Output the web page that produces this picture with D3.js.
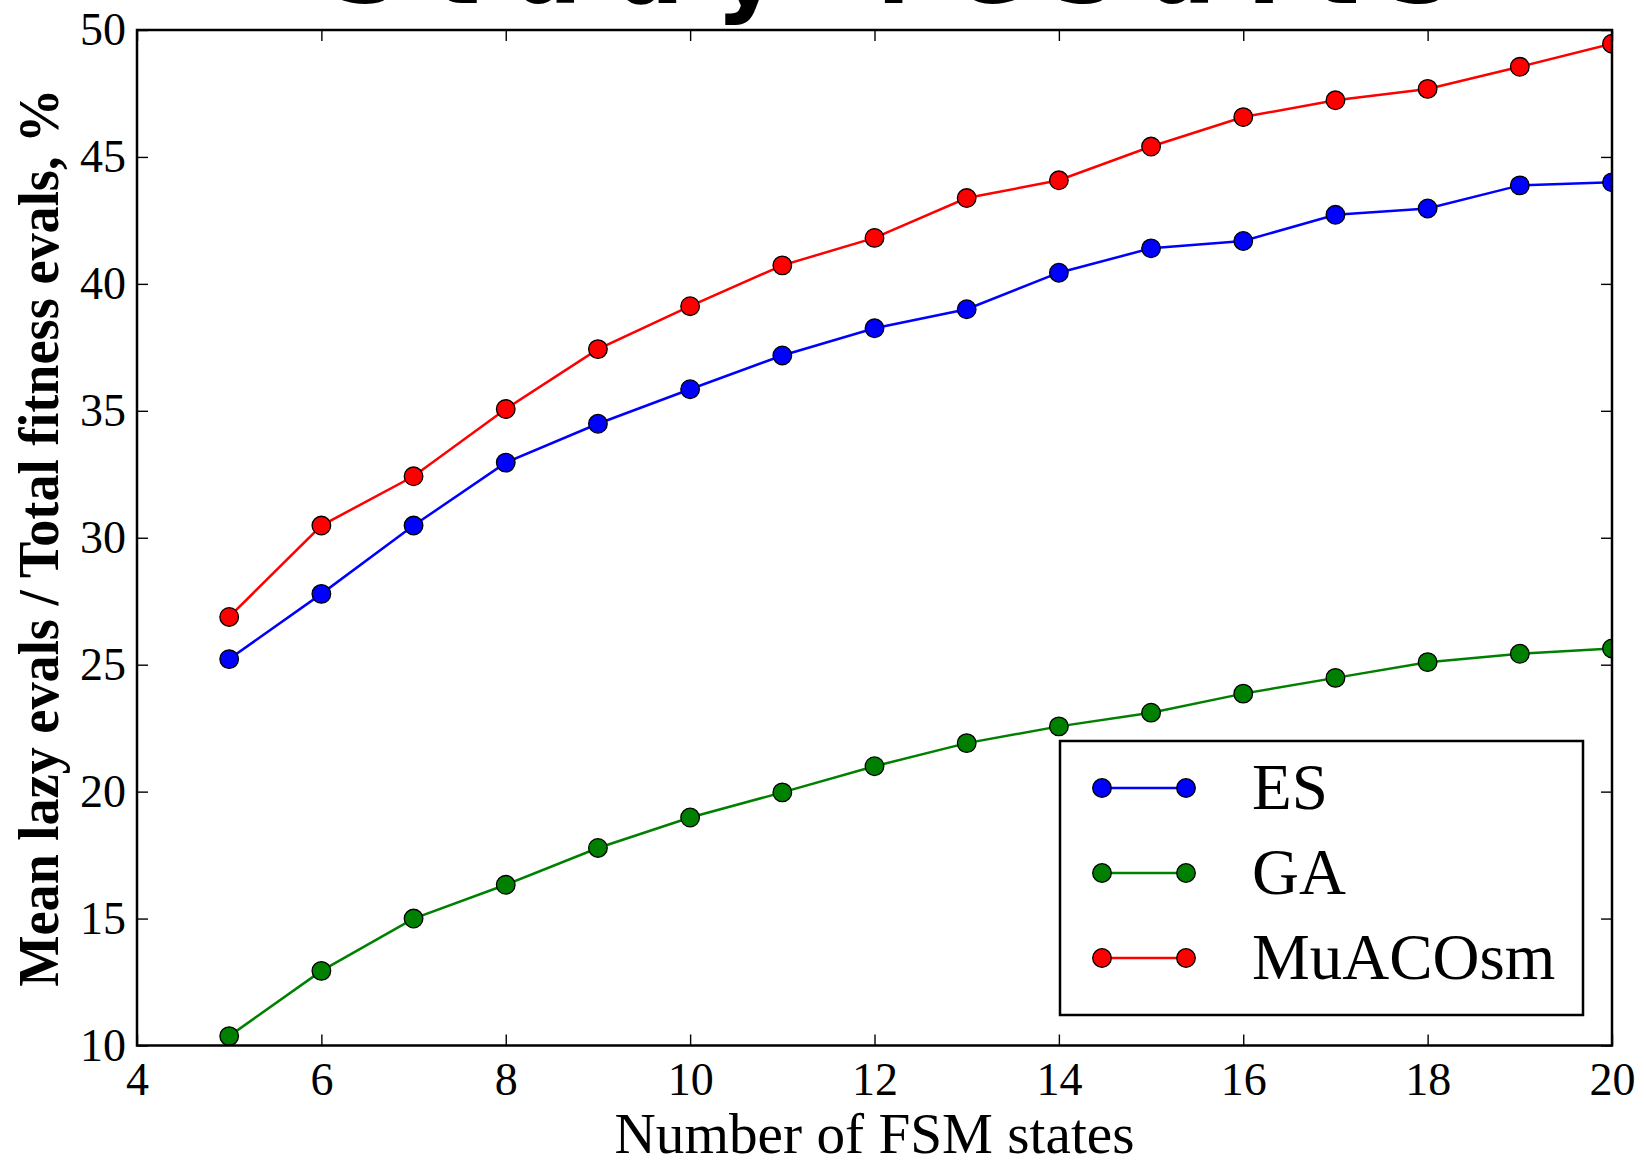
<!DOCTYPE html>
<html>
<head>
<meta charset="utf-8">
<script src="https://cdn.jsdelivr.net/npm/d3@7"></script>
<style>
	html, body { margin: 0; padding: 0; background: #fff; overflow: hidden; }
	svg { display: block; }
</style>
</head>
<body>
<div id="chart"></div>
<script>
// data
const states = [5, 6, 7, 8, 9, 10, 11, 12, 13, 14, 15, 16, 17, 18, 19, 20]
const esValues = [25.22, 27.79, 30.48, 32.96, 34.49, 35.85, 37.18, 38.25, 39.00, 40.44, 41.40, 41.69, 42.72, 42.97, 43.88, 44.00]
const gaValues = [10.37, 12.94, 15.00, 16.33, 17.78, 18.98, 19.97, 21.00, 21.91, 22.57, 23.11, 23.86, 24.48, 25.10, 25.43, 25.64]
const muacoValues = [26.88, 30.48, 32.42, 35.07, 37.43, 39.12, 40.73, 41.81, 43.38, 44.08, 45.41, 46.57, 47.23, 47.68, 48.55, 49.46]
const seriesNames = ["ES", "GA", "MuACOsm"]
const seriesColors = ["#0000ff", "#008000", "#ff0000"]
const xTicks = [4, 6, 8, 10, 12, 14, 16, 18, 20]
const yTicks = [10, 15, 20, 25, 30, 35, 40, 45, 50]

drawChart()

function drawChart() {
	const width = 1646
	const height = 1160
	const margin = { top: 30, right: 34, bottom: 114.5, left: 137 }
	const innerWidth = width - margin.left - margin.right
	const innerHeight = height - margin.top - margin.bottom

	const svg = d3.select("#chart")
		.append("svg")
		.attr("width", width)
		.attr("height", height)

	const serif = "'Liberation Serif', 'Times New Roman', serif"
	const markerR = 9.3
	const lineW = 2.5

	// title, almost all of it above the picture
	svg.append("text")
		.attr("x", 330)
		.attr("y", 3)
		.attr("textLength", 1120)
		.attr("lengthAdjust", "spacing")
		.style("font-family", "'DejaVu Sans', sans-serif")
		.style("font-weight", "bold")
		.style("font-size", "100px")
		.text("Study results")

	const g = svg.append("g")
		.attr("transform", `translate(${margin.left},${margin.top})`)

	const x = d3.scaleLinear().domain([4, 20]).range([0, innerWidth])
	const y = d3.scaleLinear().domain([10, 50]).range([innerHeight, 0])

	g.append("clipPath")
		.attr("id", "plot-clip")
		.append("rect")
		.attr("width", innerWidth)
		.attr("height", innerHeight)

	// axes with inward ticks
	const tickLen = 11
	g.append("g")
		.attr("transform", `translate(0,${innerHeight})`)
		.call(d3.axisBottom(x).tickValues(xTicks).tickSizeInner(-tickLen).tickSizeOuter(0).tickPadding(17))
	g.append("g")
		.call(d3.axisLeft(y).tickValues(yTicks).tickSizeInner(-tickLen).tickSizeOuter(0).tickPadding(11))
	g.append("g")
		.call(d3.axisTop(x).tickValues(xTicks).tickSizeInner(-tickLen).tickSizeOuter(0).tickFormat(""))
	g.append("g")
		.attr("transform", `translate(${innerWidth},0)`)
		.call(d3.axisRight(y).tickValues(yTicks).tickSizeInner(-tickLen).tickSizeOuter(0).tickFormat(""))

	g.selectAll(".domain").remove()
	g.selectAll(".tick line")
		.attr("stroke", "#000")
		.attr("stroke-width", 1.4)
	g.selectAll(".tick text")
		.attr("fill", "#000")
		.style("font-family", serif)
		.style("font-size", "46px")

	// series
	const allValues = [esValues, gaValues, muacoValues]
	const series = seriesNames.map((name, i) => ({
		name: name,
		color: seriesColors[i],
		points: states.map((s, j) => ({ x: s, y: allValues[i][j] }))
	}))

	const line = d3.line()
		.x(d => x(d.x))
		.y(d => y(d.y))

	const plot = g.append("g")
		.attr("clip-path", "url(#plot-clip)")

	const sg = plot.selectAll(".series")
		.data(series)
		.join("g")
		.attr("class", "series")

	sg.append("path")
		.attr("d", d => line(d.points))
		.attr("fill", "none")
		.attr("stroke", d => d.color)
		.attr("stroke-width", lineW)

	sg.selectAll("circle")
		.data(d => d.points.map(p => ({ p: p, color: d.color })))
		.join("circle")
		.attr("cx", d => x(d.p.x))
		.attr("cy", d => y(d.p.y))
		.attr("r", markerR)
		.attr("fill", d => d.color)
		.attr("stroke", "#000")
		.attr("stroke-width", 1.3)

	// frame
	g.append("rect")
		.attr("width", innerWidth)
		.attr("height", innerHeight)
		.attr("fill", "none")
		.attr("stroke", "#000")
		.attr("stroke-width", 2.5)

	// legend
	const legend = svg.append("g")
		.attr("transform", `translate(${1060},${741})`)
	legend.append("rect")
		.attr("width", 523)
		.attr("height", 274)
		.attr("fill", "#fff")
		.attr("stroke", "#000")
		.attr("stroke-width", 2.5)

	const item = legend.selectAll(".item")
		.data(series)
		.join("g")
		.attr("class", "item")
		.attr("transform", (d, i) => `translate(0,${47 + i * 85})`)

	item.append("line")
		.attr("x1", 42)
		.attr("x2", 126)
		.attr("stroke", d => d.color)
		.attr("stroke-width", lineW)
	item.selectAll("circle")
		.data(d => [42, 126].map(cx => ({ cx: cx, color: d.color })))
		.join("circle")
		.attr("cx", d => d.cx)
		.attr("r", markerR)
		.attr("fill", d => d.color)
		.attr("stroke", "#000")
		.attr("stroke-width", 1.3)
	item.append("text")
		.attr("x", 192)
		.attr("y", 21)
		.style("font-family", serif)
		.style("font-size", "65px")
		.text(d => d.name)

	// axis labels
	svg.append("text")
		.attr("x", margin.left + innerWidth / 2)
		.attr("y", 1153)
		.attr("text-anchor", "middle")
		.attr("textLength", 520)
		.attr("lengthAdjust", "spacingAndGlyphs")
		.style("font-family", serif)
		.style("font-size", "57px")
		.text("Number of FSM states")

	svg.append("text")
		.attr("transform", `translate(${58},${margin.top + innerHeight / 2}) rotate(-90)`)
		.attr("text-anchor", "middle")
		.attr("textLength", 898)
		.attr("lengthAdjust", "spacingAndGlyphs")
		.style("font-family", serif)
		.style("font-weight", "bold")
		.style("font-size", "58px")
		.text("Mean lazy evals / Total fitness evals, %")
}
</script>
</body>
</html>
